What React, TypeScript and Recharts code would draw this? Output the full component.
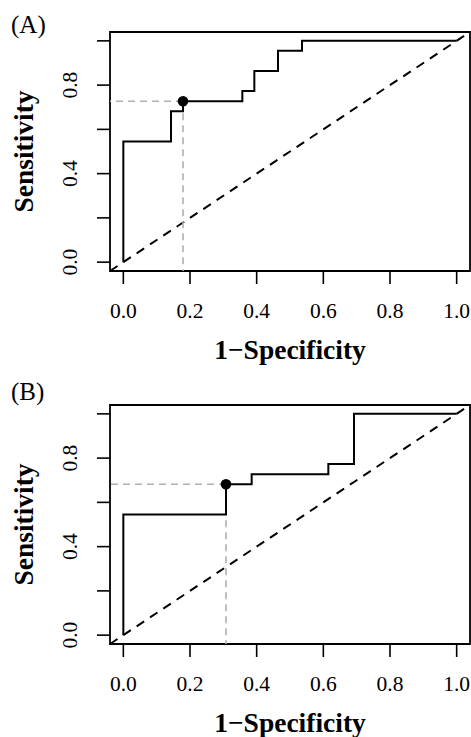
import React from "react";
import {
  Label,
  Line,
  LineChart,
  ReferenceArea,
  ReferenceDot,
  ReferenceLine,
  XAxis,
  YAxis,
} from "recharts";

// shared axis settings (R style: 4% padding around [0,1])
const axisTicks = [0, 0.2, 0.4, 0.6, 0.8, 1.0];
const yLabelled = [0, 0.4, 0.8];
const lo = -0.04;
const hi = 1.04;

// panel A: ROC threshold points (1-specificity, sensitivity)
const fprA = [0, 0, 0.143, 0.179, 0.357, 0.393, 0.464, 0.536, 1];
const tprA = [0, 0.545, 0.682, 0.727, 0.773, 0.864, 0.955, 1, 1];
const cutA = { fpr: 0.179, tpr: 0.727 };

// panel B
const fprB = [0, 0, 0.308, 0.385, 0.615, 0.692, 1];
const tprB = [0, 0.545, 0.682, 0.727, 0.773, 1, 1];
const cutB = { fpr: 0.308, tpr: 0.682 };

const FONT = '"Liberation Serif", "Times New Roman", serif';
const PLOT_TOP = 32;
const PLOT_H = 239;
const PLOT_BOTTOM = PLOT_TOP + PLOT_H;
const Y_AXIS_W = 110;
const W = 471;

function XTick({ x, payload }: any) {
  return (
    <text x={x} y={PLOT_BOTTOM + 47} textAnchor="middle" fontFamily={FONT} fontSize={21.5} fill="#000">
      {Number(payload.value).toFixed(1)}
    </text>
  );
}

function YTick({ y, payload }: any) {
  if (!yLabelled.includes(payload.value)) return <g />;
  return (
    <text
      x={77}
      y={y}
      transform={`rotate(-90 77 ${y})`}
      textAnchor="middle"
      fontFamily={FONT}
      fontSize={21.5}
      fill="#000"
    >
      {Number(payload.value).toFixed(1)}
    </text>
  );
}

function Panel({ fpr, tpr, cut, tag, tagY, height }: any) {
  const data = fpr.map((x: number, i: number) => ({ x, y: tpr[i] }));
  const midY = PLOT_TOP + PLOT_H / 2;
  return (
    <LineChart
      width={W}
      height={height}
      data={data}
      margin={{ top: PLOT_TOP, right: 1, left: 0, bottom: 0 }}
    >
      <XAxis
        dataKey="x"
        type="number"
        domain={[lo, hi]}
        ticks={axisTicks}
        allowDataOverflow
        axisLine={false}
        tickSize={13}
        tickLine={{ stroke: "#000", strokeWidth: 1.6 }}
        tick={<XTick />}
        height={height - PLOT_BOTTOM}
      >
        <Label
          content={() => (
            <text x={290} y={PLOT_BOTTOM + 88} textAnchor="middle" fontFamily={FONT} fontSize={27.5} fontWeight="bold" fill="#000">
              1−Specificity
            </text>
          )}
        />
      </XAxis>
      <YAxis
        type="number"
        domain={[lo, hi]}
        ticks={axisTicks}
        allowDataOverflow
        axisLine={false}
        tickSize={13}
        tickLine={{ stroke: "#000", strokeWidth: 1.6 }}
        tick={<YTick />}
        width={Y_AXIS_W}
      >
        <Label
          content={() => (
            <g>
              <text
                x={33}
                y={midY}
                transform={`rotate(-90 33 ${midY})`}
                textAnchor="middle"
                fontFamily={FONT}
                fontSize={27.5}
                fontWeight="bold"
                fill="#000"
              >
                Sensitivity
              </text>
              <text x={11} y={tagY} fontFamily={FONT} fontSize={25} fill="#000">
                {tag}
              </text>
            </g>
          )}
        />
      </YAxis>
      <ReferenceArea x1={lo} x2={hi} y1={lo} y2={hi} fill="none" fillOpacity={0} stroke="#000" strokeWidth={1.8} />
      <ReferenceLine
        segment={[{ x: lo, y: lo }, { x: hi, y: hi }]}
        stroke="#000"
        strokeWidth={2}
        strokeDasharray="9 7"
      />
      <ReferenceLine
        segment={[{ x: cut.fpr, y: cut.tpr }, { x: lo, y: cut.tpr }]}
        stroke="#b0b0b0"
        strokeWidth={1.6}
        strokeDasharray="7 5"
      />
      <ReferenceLine
        segment={[{ x: cut.fpr, y: cut.tpr }, { x: cut.fpr, y: lo }]}
        stroke="#b0b0b0"
        strokeWidth={1.6}
        strokeDasharray="7 5"
      />
      <Line
        dataKey="y"
        type="stepAfter"
        stroke="#000"
        strokeWidth={2}
        dot={false}
        isAnimationActive={false}
      />
      <ReferenceDot x={cut.fpr} y={cut.tpr} r={5.3} fill="#000" stroke="none" />
    </LineChart>
  );
}

export default function App() {
  return (
    <div style={{ position: "absolute", left: 0, top: 0, width: W, height: 737, background: "#fff" }}>
      <div style={{ position: "absolute", left: 0, top: 0 }}>
        <Panel fpr={fprA} tpr={tprA} cut={cutA} tag="(A)" tagY={33} height={373} />
      </div>
      <div style={{ position: "absolute", left: 0, top: 373 }}>
        <Panel fpr={fprB} tpr={tprB} cut={cutB} tag="(B)" tagY={27} height={364} />
      </div>
    </div>
  );
}
